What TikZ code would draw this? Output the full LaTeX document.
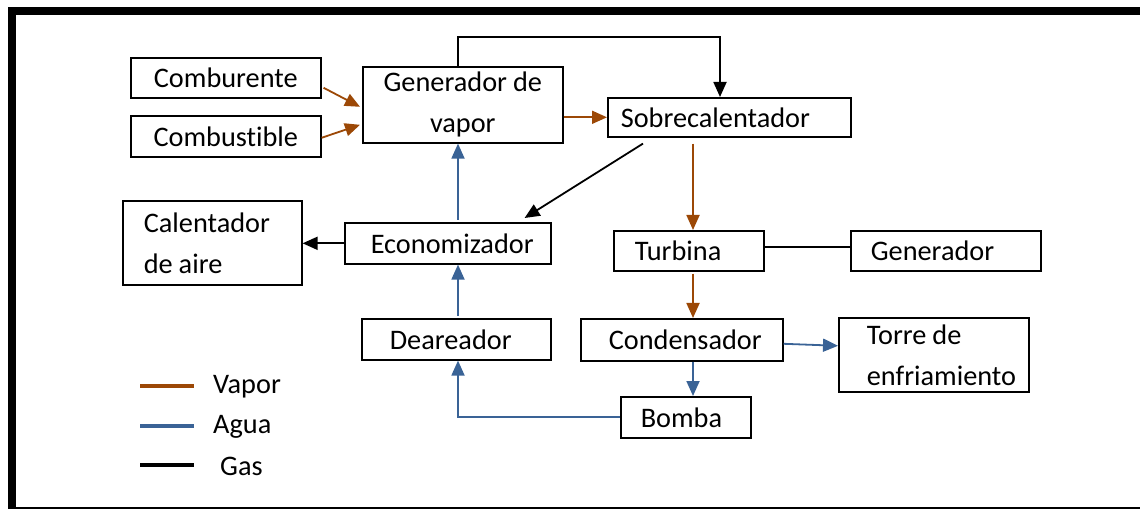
\documentclass[tikz,border=0pt]{standalone}
\usepackage{fontspec}
\setmainfont{Carlito}[Ligatures=NoCommon]
\usetikzlibrary{arrows.meta,calc}
\definecolor{vap}{RGB}{156,72,6}
\definecolor{agu}{RGB}{58,99,150}
\newcommand{\wsp}{\hspace{6pt}}
\begin{document}
\begin{tikzpicture}[x=1pt,y=-1pt,
  txt/.style={font=\fontsize{28.3}{41}\selectfont},
  box/.style={txt, draw, line width=1.6pt, inner sep=0pt, anchor=north west},
  conn/.style={line width=1.8pt, -{Triangle[length=15pt,width=13pt]}},
  plain/.style={line width=1.8pt},
  leg/.style={line width=4pt}]
\useasboundingbox (0,0) rectangle (1140,510);
% frame
\fill (8,7) rectangle (1140,15);
\fill (8,7) rectangle (16,509);
\draw[line width=1.5pt] (8,508) -- (1140,508);
% boxes
\node[box, text width=190pt, minimum height=40pt, align=center] (cbr) at (130,57) {Comburente};
\node[box, text width=190pt, minimum height=41pt, align=center] (cbs) at (130,115) {Combustible};
\node[box, text width=200pt, minimum height=76pt, align=center] (gen) at (362,66) {Generador\wsp de\\vapor};
\node[box, text width=243pt, minimum height=39pt, align=left] (sob) at (607,97) {\hspace*{13pt}Sobrecalentador};
\node[box, text width=179pt, minimum height=84pt, align=left] (cal) at (122,200) {\hspace*{21pt}Calentador\\\hspace*{21pt}de\wsp aire};
\node[box, text width=206pt, minimum height=41pt, align=left] (eco) at (344,222) {\hspace*{26pt}Economizador};
\node[box, text width=189pt, minimum height=41pt, align=left] (dea) at (361,318) {\hspace*{28pt}Deareador};
\node[box, text width=150pt, minimum height=40pt, align=left] (tur) at (613,230) {\hspace*{21pt}Turbina};
\node[box, text width=190pt, minimum height=40pt, align=left] (gnr) at (850,230) {\hspace*{20pt}Generador};
\node[box, text width=202pt, minimum height=42pt, align=left] (con) at (580,318) {\hspace*{28pt}Condensador};
\node[box, text width=190pt, minimum height=74pt, align=left] (tor) at (838,317) {\hspace*{28pt}Torre\wsp de\\\hspace*{28pt}enfriamiento};
\node[box, text width=130pt, minimum height=41pt, align=left] (bom) at (620,396) {\hspace*{20pt}Bomba};
% connectors
\draw[conn, vap] ($(cbr.east)+(2,10)$) -- ($(gen.west)+(-2,2)$);
\draw[conn, vap] ($(cbs.east)+(0,1.5)$) -- ($(gen.west)+(-2,20)$);
\draw[conn, vap] (gen.east |- sob.west) -- (sob.west);
\coordinate (g1) at ($(gen.north west)+(96,0)$);
\draw[conn] (g1) -- ++(0,-29) -| ($(sob.north west)+(113,0)$);
\draw[conn] ($(sob.south west)+(36,6)$) -- ($(eco.north east)+(-27,-4)$);
\draw[conn, vap] ($(sob.south west)+(86,6)$) -- ($(tur.north west)+(80,0)$);
\draw[conn] (eco.west) -- (cal.east |- eco.west);
\draw[conn, agu] ($(eco.north west)+(114,-2)$) -- ($(gen.south west)+(96,0)$);
\draw[conn, agu] ($(dea.north west)+(97,-2)$) -- ($(eco.south west)+(114,0)$);
\draw[plain] ($(tur.east)+(0,-4)$) -- ($(gnr.west)+(0,-4)$);
\draw[conn, vap] ($(tur.south west)+(80,2)$) -- ($(con.north west)+(113,0)$);
\draw[conn, agu] ($(con.east)+(0,4)$) -- ($(tor.west)+(0,-9)$);
\draw[conn, agu] ($(con.south west)+(113,0)$) -- ($(bom.north west)+(73,0)$);
\draw[conn, agu] (bom.west) -| ($(dea.south west)+(97,0)$);
% legend
\node[txt, anchor=west, inner sep=0pt] (lv) at (213,387) {Vapor};
\node[txt, anchor=west, inner sep=0pt] (la) at (213,427) {Agua};
\node[txt, anchor=west, inner sep=0pt] (lg) at (220,466) {Gas};
\draw[leg, vap] ($(lv.west)+(-73,-1)$) -- ++(54,0);
\draw[leg, agu] ($(la.west)+(-73,-1)$) -- ++(54,0);
\draw[leg] ($(lg.west)+(-80,-1)$) -- ++(54,0);
\end{tikzpicture}
\end{document}
